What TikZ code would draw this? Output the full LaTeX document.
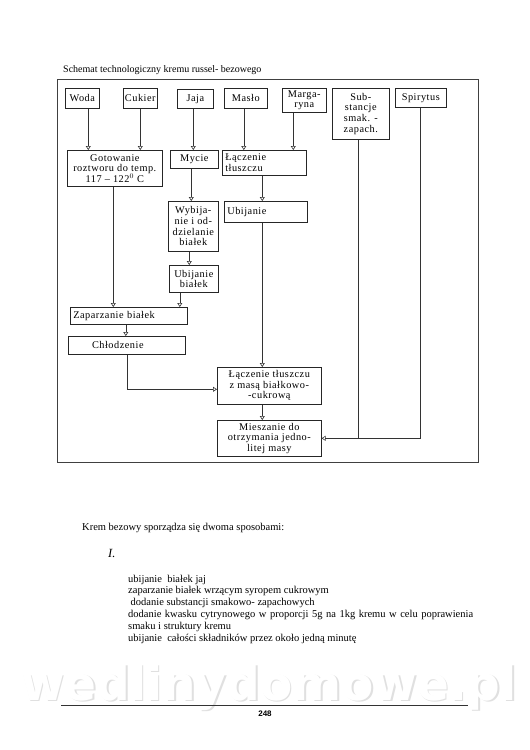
\documentclass[tikz,border=0pt]{standalone}
\usepackage{fontspec}
\setmainfont{Liberation Serif}
\newfontfamily\boxfont{Liberation Serif}[LetterSpace=5]
\newfontfamily\wmfont{DejaVu Sans}
\newfontfamily\pgfont{Liberation Sans}
\usetikzlibrary{arrows.meta}
\begin{document}
\begin{tikzpicture}[x=1pt,y=-1pt,
  box/.style={draw=black!85, line width=0.6pt, inner sep=1pt, anchor=north west,
    font=\boxfont\fontsize{10.3}{10.6}\selectfont, align=center},
  arr/.style={draw=black!80, line width=0.6pt, -{Triangle[open,length=4pt,width=5pt]}},
  ln/.style={draw=black!80, line width=0.6pt},
  txt/.style={anchor=base west, inner sep=0pt, font=\fontsize{10.5}{12}\selectfont}]
\useasboundingbox (0,0) rectangle (530,750);
\fill[white] (0,0) rectangle (530,750);

% watermark
\begin{scope}
\clip (0,0) rectangle (530,750);
\node[anchor=base, inner sep=0pt, font=\wmfont\bfseries\fontsize{47}{47}\selectfont, text=black!12] (wmshadow) at (270.5,701.5) {wedlinydomowe.pl};
\node[anchor=base, inner sep=0pt, font=\wmfont\bfseries\fontsize{47}{47}\selectfont, text=white] (wm) at (269,700) {wedlinydomowe.pl};
\end{scope}

% title
\node[txt, font=\fontsize{10}{12}\selectfont] (title) at (63,72) {Schemat technologiczny kremu russel- bezowego};

% frame
\draw[draw=black!75, line width=0.7pt] (57,79) rectangle (478,462);

% boxes
\node[box, minimum width=34pt, minimum height=20pt] (woda) at (65,88) {Woda};
\node[box, minimum width=34pt, minimum height=20pt] (cukier) at (123,88) {Cukier};
\node[box, minimum width=36pt, minimum height=19pt] (jaja) at (177,89) {Jaja};
\node[box, minimum width=43pt, minimum height=20pt] (maslo) at (224,88) {Masło};
\node[box, minimum width=44pt, minimum height=24pt] (marg) at (282,88) {Marga-\\ryna};
\node[box, minimum width=57pt, minimum height=51pt] (subst) at (332,88) {Sub-\\stancje\\smak. -\\zapach.};
\node[box, minimum width=51pt, minimum height=19pt] (spir) at (395,88) {Spirytus};

\node[box, minimum width=95pt, minimum height=36pt] (got) at (67,150) {Gotowanie\\roztworu do temp.\\117 – 122$^{0}$ C};
\node[box, minimum width=48pt, minimum height=18pt] (mycie) at (170,150) {Mycie};
\node[box, minimum width=84pt, minimum height=25pt, align=left, text width=78pt] (lacz) at (222,150) {Łączenie\\tłuszczu};
\node[box, minimum width=83pt, minimum height=21pt, align=left, text width=77pt] (ubij) at (224,201) {Ubijanie};
\node[box, minimum width=50pt, minimum height=50pt] (wyb) at (168,201) {Wybija-\\nie i od-\\dzielanie\\białek};
\node[box, minimum width=49pt, minimum height=27pt] (ubb) at (169,265) {Ubijanie\\białek};
\node[box, minimum width=117pt, minimum height=17pt, align=left, text width=111pt] (zap) at (70,307) {Zaparzanie białek};
\node[box, minimum width=117pt, minimum height=18pt] (chl) at (68,336) {Chłodzenie\hspace{18pt}};
\node[box, minimum width=104pt, minimum height=37pt] (lm) at (217,367) {Łączenie tłuszczu\\z masą białkowo-\\-cukrową};
\node[box, minimum width=104pt, minimum height=36pt] (mies) at (217,420) {Mieszanie do\\otrzymania jedno-\\litej masy};

% connectors
\draw[arr] ([xshift=6pt]woda.south) -- ([xshift=6pt]woda.south |- got.north);
\draw[arr] (cukier.south) -- (cukier.south |- got.north);
\draw[arr] ([xshift=-2pt]jaja.south) -- ([xshift=-2pt]jaja.south |- mycie.north);
\draw[arr] ([xshift=-2pt]maslo.south) -- ([xshift=-2pt]maslo.south |- lacz.north);
\draw[arr] ([xshift=-11pt]marg.south) -- ([xshift=-11pt]marg.south |- lacz.north);
\draw[arr] ([xshift=-2pt]lacz.south) -- ([xshift=-2pt]lacz.south |- ubij.north);
\draw[arr] ([xshift=-3pt]mycie.south) -- ([xshift=-3pt]mycie.south |- wyb.north);
\draw[arr] ([xshift=-4pt]wyb.south) -- ([xshift=-4pt]wyb.south |- ubb.north);
\draw[arr] ([xshift=-1.5pt]got.south) -- ([xshift=-1.5pt]got.south |- zap.north);
\draw[arr] ([xshift=-14pt]ubb.south) -- ([xshift=-14pt]ubb.south |- zap.north);
\draw[arr] ([xshift=-3pt]zap.south) -- ([xshift=-3pt]zap.south |- chl.north);
\draw[arr] (chl.south) |- ([yshift=-3.5pt]lm.west);
\draw[arr] ([xshift=-3.5pt]ubij.south) -- ([xshift=-3.5pt]ubij.south |- lm.north);
\draw[arr] ([xshift=-7pt]lm.south) -- ([xshift=-7pt]lm.south |- mies.north);
\draw[ln] ([xshift=-0.5pt]spir.south) |- ([xshift=-2.5pt]subst.south |- mies.east);
\draw[arr] ([xshift=-2.5pt]subst.south) |- (mies.east);

% body text
\node[txt] (krem) at (82,530) {Krem bezowy sporządza się dwoma sposobami:};
\node[txt, font=\itshape\fontsize{12.5}{14}\selectfont] (roman) at (108,557) {I.};
\node[txt] (l1) at (128,582) {ubijanie\ \ białek jaj};
\node[txt] (l2) at (128,593.8) {zaparzanie białek wrzącym syropem cukrowym};
\node[txt] (l3) at (130.5,605.6) {dodanie substancji smakowo- zapachowych};
\node[txt] (l4) at (128,617.4) {\makebox[345pt][s]{dodanie kwasku cytrynowego w proporcji 5g na 1kg kremu w celu poprawienia}};
\node[txt] (l5) at (128,629.2) {smaku i struktury kremu};
\node[txt] (l6) at (128,641) {ubijanie\ \ całości składników przez około jedną minutę};

% footer
\draw[draw=black!80, line width=0.8pt] (61,705) -- (468,705);
\node[anchor=base, inner sep=0pt, font=\pgfont\bfseries\fontsize{8}{9}\selectfont] (page) at (265,716) {248};
\end{tikzpicture}
\end{document}
